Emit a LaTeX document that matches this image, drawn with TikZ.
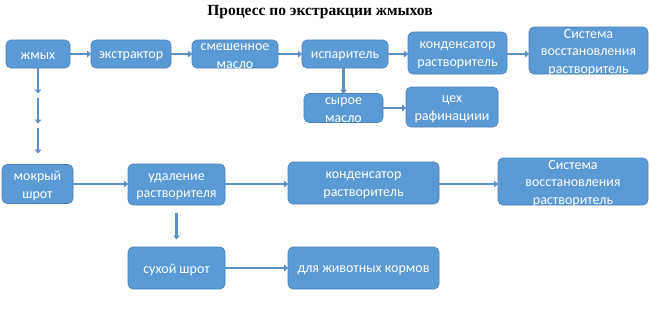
\documentclass[tikz,border=0pt]{standalone}
\usepackage{fontspec}
\setmainfont{Carlito}
\newfontfamily\titlefont{Liberation Serif}
\usetikzlibrary{arrows.meta}
\definecolor{boxfill}{HTML}{5B9BD5}
\definecolor{boxline}{HTML}{4A7EBB}
\definecolor{arrcol}{HTML}{5B8FC9}
\begin{document}
\begin{tikzpicture}[x=1pt,y=-1pt,
  blk/.style={draw=boxline,line width=0.6pt,fill=boxfill,rounded corners=5pt,inner sep=0pt},
  txt/.style={text=white,align=center,inner sep=0pt,yshift=-2pt,font=\fontsize{14}{17.5}\selectfont},
  conn/.style={draw=arrcol,line width=2.6pt,-{Triangle[length=4pt,width=6.5pt]},shorten >=-0.5pt}]
\useasboundingbox (0,0) rectangle (650,309);
\node[font=\titlefont\bfseries\fontsize{15.5}{18}\selectfont] (title) at (320,12) {Процесс по экстракции жмыхов};
\node[blk,minimum width=64pt,minimum height=28pt,label={[txt]center:жмых}] (zh) at (38,54) {};
\node[blk,minimum width=80pt,minimum height=28pt,label={[txt]center:экстрактор}] (ex) at (131,54) {};
\node[blk,minimum width=86pt,minimum height=28pt,label={[txt]center:{смешенное\\масло}}] (mix) at (235,54) {};
\node[blk,minimum width=86pt,minimum height=28pt,label={[txt]center:испаритель}] (ev) at (345,54) {};
\node[blk,minimum width=99pt,minimum height=42pt,label={[txt]center:{конденсатор\\растворитель}}] (c1) at (457.5,53) {};
\node[blk,minimum width=119pt,minimum height=47pt,label={[txt]center:{Система\\восстановления\\растворитель}}] (s1) at (588.5,50.5) {};
\node[blk,minimum width=79pt,minimum height=29pt,label={[txt]center:{сырое\\масло}}] (raw) at (343.5,108) {};
\node[blk,minimum width=92pt,minimum height=40pt,label={[txt]center:{цех\\рафинациии}}] (ref) at (452,107) {};
\node[blk,minimum width=71pt,minimum height=39pt,label={[txt]center:{мокрый\\шрот}}] (wet) at (37.5,184) {};
\node[blk,minimum width=97pt,minimum height=41pt,label={[txt]center:{удаление\\растворителя}}] (rem) at (176.5,184.5) {};
\node[blk,minimum width=151pt,minimum height=42pt,label={[txt]center:{конденсатор\\растворитель}}] (c2) at (363.5,183) {};
\node[blk,minimum width=150pt,minimum height=47pt,label={[txt]center:{Система\\восстановления\\растворитель}}] (s2) at (573,181.5) {};
\node[blk,minimum width=97pt,minimum height=42pt,label={[txt]center:сухой шрот}] (dry) at (176.5,268) {};
\node[blk,minimum width=151pt,minimum height=42pt,label={[txt]center:для животных кормов}] (feed) at (363.5,268) {};
\coordinate (d1) at (38,93);
\coordinate (d2) at (38,98);
\coordinate (d3) at (38,123);
\coordinate (d4) at (38,128);
\coordinate (d5) at (38,153);
\coordinate (r1) at (176.5,213);
\coordinate (r2) at (176.5,239);
\draw[conn] (zh) -- (ex);
\draw[conn] (ex) -- (mix);
\draw[conn] (mix) -- (ev);
\draw[conn] (ev) -- (c1.west|-ev);
\draw[conn] (c1.east|-ev) -- (s1.west|-ev);
\draw[conn] (ev.south-|raw) -- (raw.north);
\draw[conn] (raw.east) -- (ref.west|-raw);
\draw[conn] (zh.south) -- (d1);
\draw[conn] (d2) -- (d3);
\draw[conn] (d4) -- (d5);
\draw[conn] (wet.east) -- (rem.west|-wet);
\draw[conn] (rem.east|-wet) -- (c2.west|-wet);
\draw[conn] (c2.east|-wet) -- (s2.west|-wet);
\draw[conn] (r1) -- (r2);
\draw[conn] (dry) -- (feed);
\end{tikzpicture}
\end{document}
